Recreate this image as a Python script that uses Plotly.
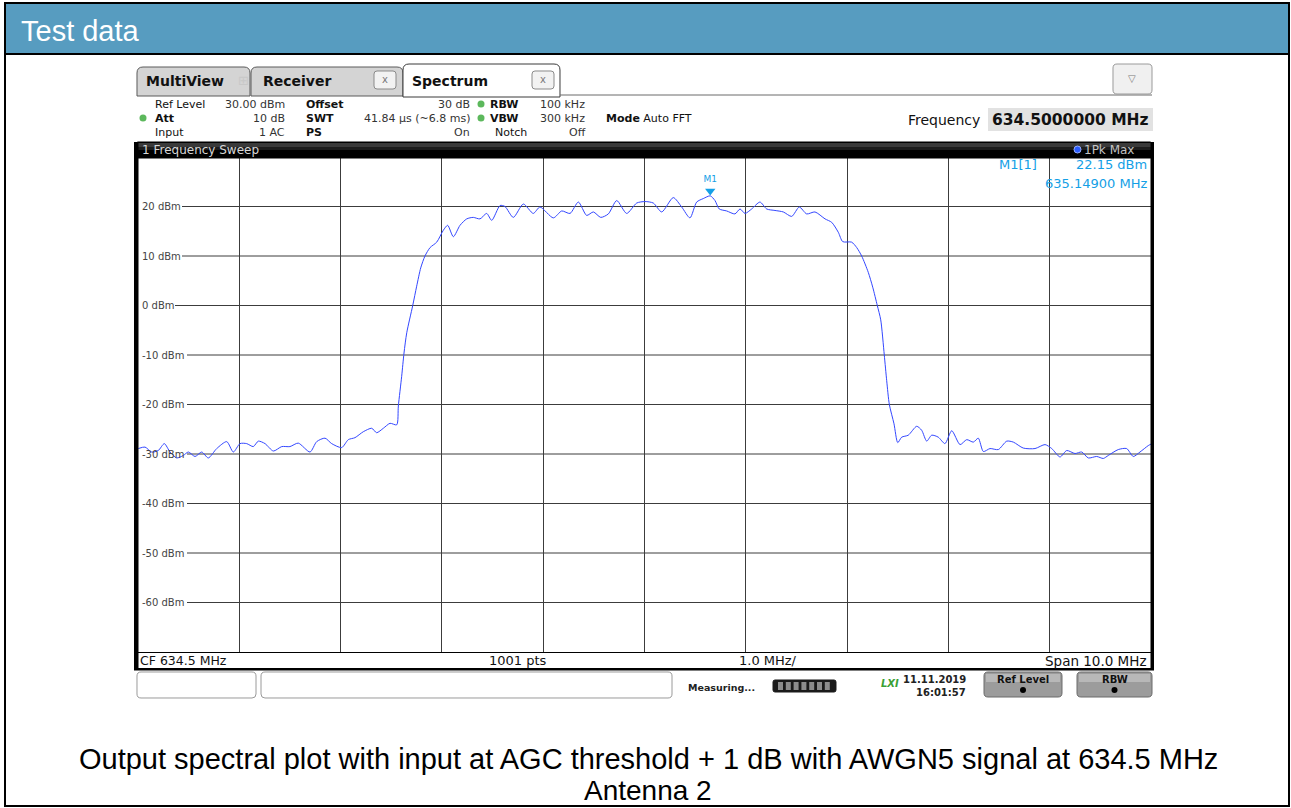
import plotly.graph_objects as go

# --- trace data (1Pk Max) ---
freq_mhz = [
    629.503, 629.569, 629.635, 629.700, 629.760, 629.816, 629.882, 629.947, 629.997, 630.063,
    630.129, 630.194, 630.277, 630.376, 630.441, 630.507, 630.573, 630.638, 630.688, 630.754,
    630.836, 630.919, 631.000, 631.082, 631.198, 631.264, 631.346, 631.412, 631.511, 631.576,
    631.642, 631.724, 631.807, 631.856, 631.922, 631.988, 632.054,
    632.070, 632.103, 632.126, 632.153, 632.212, 632.251, 632.291, 632.333, 632.383, 632.449,
    632.514, 632.557, 632.613, 632.679, 632.745, 632.810, 632.876, 632.942, 632.992, 633.074,
    633.123, 633.205, 633.304, 633.402, 633.468, 633.600, 633.683, 633.765, 633.847, 633.929,
    633.995, 634.068, 634.143, 634.226, 634.324, 634.423, 634.505, 634.587, 634.670, 634.784,
    634.867, 634.949, 635.015, 635.080, 635.149, 635.196, 635.238, 635.311, 635.393, 635.443,
    635.492, 635.558, 635.640, 635.706, 635.788, 635.870, 635.953, 636.028, 636.101, 636.183,
    636.282, 636.348, 636.413, 636.457, 636.545, 636.595, 636.644, 636.709, 636.753,
    636.798, 636.832, 636.867, 636.891, 636.917, 636.963, 637.000, 637.039, 637.104, 637.187,
    637.236, 637.286, 637.335, 637.400, 637.466, 637.533, 637.615, 637.681, 637.746, 637.795,
    637.845, 637.911, 637.993, 638.076, 638.141, 638.239, 638.355, 638.454, 638.520, 638.602,
    638.668, 638.750, 638.816, 638.881, 638.964, 639.029, 639.078, 639.177, 639.260, 639.325,
    639.391, 639.473, 639.500,
]
level_dbm = [
    -28.9, -28.6, -29.6, -29.3, -27.9, -29.6, -30.8, -30.3, -29.6, -30.5,
    -29.6, -30.8, -28.9, -27.5, -29.6, -27.9, -27.9, -28.5, -27.4, -27.9,
    -29.4, -28.5, -28.5, -27.8, -29.6, -27.5, -26.8, -27.9, -28.7, -27.1,
    -26.7, -25.5, -24.8, -25.7, -24.8, -23.8, -24.1,
    -20.3, -14.3, -9.6, -5.5, 0.0, 3.9, 7.6, 10.0, 11.7, 12.8,
    15.2, 16.2, 13.9, 16.2, 17.5, 17.8, 17.5, 18.6, 17.2, 20.2,
    20.0, 17.8, 20.5, 18.6, 19.9, 17.7, 19.1, 18.6, 20.9, 18.2,
    18.9, 17.8, 18.5, 21.2, 18.6, 20.7, 21.0, 20.7, 18.9, 21.8,
    19.9, 17.7, 20.9, 21.6, 22.15, 21.2, 19.5, 19.1, 18.5, 19.5,
    18.6, 19.5, 20.9, 19.5, 19.2, 18.9, 18.0, 19.9, 18.5, 18.9,
    17.5, 16.8, 14.8, 12.9, 12.8, 11.7, 10.0, 6.7, 3.7,
    0.0, -2.9, -10.0, -15.2, -20.0, -23.9, -27.7, -26.6, -26.2, -24.4,
    -25.2, -27.4, -26.2, -26.6, -27.9, -25.3, -28.1, -27.1, -27.6, -26.8,
    -29.5, -28.9, -29.1, -27.4, -27.6, -28.8, -28.9, -28.1, -28.9, -30.6,
    -29.3, -29.9, -29.6, -30.8, -30.5, -30.9, -30.3, -29.1, -28.9, -30.5,
    -29.6, -28.3, -28.0,
]
assert len(freq_mhz) == len(level_dbm)

center_mhz = 634.5
span_mhz = 10.0
ref_level_dbm = 30
bottom_dbm = -70
y_ticks_dbm = [20, 10, 0, -10, -20, -30, -40, -50, -60]
y_tick_labels = ["20 dBm", "10 dBm", "0 dBm", "-10 dBm", "-20 dBm",
                 "-30 dBm", "-40 dBm", "-50 dBm", "-60 dBm"]

marker_freq_mhz = [635.149]
marker_level_dbm = [22.15]

# --- page geometry (pixels) ---
W, H = 1291, 808
PL, PR, PT, PB = 138, 1151, 157, 652   # plot area
INST = "DejaVu Sans"
DOC = "Liberation Sans, Arial, sans-serif"
MKC = "#14a0e6"


def px(x):
    return x / W


def py(y):
    return 1 - y / H


shapes = []
annots = []


def rect(x0, y0, x1, y1, fill=None, line=None, lw=1, layer="above"):
    shapes.append(dict(
        type="rect", xref="paper", yref="paper",
        x0=px(x0), x1=px(x1), y0=py(y1), y1=py(y0),
        fillcolor=fill or "rgba(0,0,0,0)",
        line=dict(color=line or "rgba(0,0,0,0)", width=lw if line else 0),
        layer=layer,
    ))


def hline(x0, x1, y, color="#000", lw=1):
    shapes.append(dict(type="line", xref="paper", yref="paper",
                       x0=px(x0), x1=px(x1), y0=py(y), y1=py(y),
                       line=dict(color=color, width=lw)))


def rrect(x0, y0, x1, y1, r, fill, line, lw=1, top_only=False):
    def p(x, y):
        return f"{px(x):.6f},{py(y):.6f}"
    rb = 0 if top_only else r
    d = (f"M {p(x0 + r, y0)} L {p(x1 - r, y0)} Q {p(x1, y0)} {p(x1, y0 + r)} "
         f"L {p(x1, y1 - rb)} Q {p(x1, y1)} {p(x1 - rb, y1)} "
         f"L {p(x0 + rb, y1)} Q {p(x0, y1)} {p(x0, y1 - rb)} "
         f"L {p(x0, y0 + r)} Q {p(x0, y0)} {p(x0 + r, y0)} Z")
    shapes.append(dict(type="path", xref="paper", yref="paper", path=d,
                       fillcolor=fill, line=dict(color=line, width=lw),
                       layer="above"))


def text(x, y, s, size=11, color="#000", anchor="left", bold=False, family=INST):
    annots.append(dict(
        xref="paper", yref="paper", x=px(x), y=py(y),
        text=f"<b>{s}</b>" if bold else s, showarrow=False,
        xanchor=anchor, yanchor="middle",
        font=dict(size=size, color=color, family=family),
    ))


# --- document frame ---
rect(5, 3, 1289, 806, line="#000", lw=2)
rect(6, 4, 1288, 53, fill="#579cc0")
hline(5, 1289, 54, lw=2)
text(19, 31, "Test data", size=29, color="#fff", family=DOC)
text(648, 759, "Output spectral plot with input at AGC threshold + 1 dB with AWGN5 signal at 634.5 MHz",
     size=29, anchor="center", family=DOC)
text(648, 790, "Antenna 2", size=28, anchor="center", family=DOC)

# --- tabs ---
rrect(137, 67, 250, 96, 6, "#d4d4d4", "#5a5a5a", top_only=True)
rrect(251, 67, 403, 96, 6, "#d4d4d4", "#5a5a5a", top_only=True)
rrect(403, 64, 560, 97, 6, "#ffffff", "#3a3a3a", top_only=True)
hline(560, 1152, 95, color="#6a6a6a")
text(144, 81, "MultiView", size=14, bold=True, color="#111")
text(236, 81, "⊞", size=13, color="#c8c8c8")
text(261, 81, "Receiver", size=14, bold=True, color="#111")
text(410, 81, "Spectrum", size=14, bold=True, color="#111")
for bx in (374, 532):
    rrect(bx, 71, bx + 22, 89, 3, "#f2f2f2", "#8a8a8a")
    text(bx + 11, 80, "x", size=10, color="#7a7a7a", anchor="center")
rrect(1113, 64, 1152, 94, 4, "#f0f0f0", "#9a9a9a")
text(1132, 79, "▽", size=10, color="#7a7a7a", anchor="center")

# --- settings panel ---
LAB, VAL = "#111", "#333"
rows = [104, 118, 132]
text(153, rows[0], "Ref Level", color=LAB)
text(287, rows[0], "30.00 dBm", color=VAL, anchor="right")
text(304, rows[0], "Offset", color=LAB, bold=True)
text(472, rows[0], "30 dB", color=VAL, anchor="right")
text(488, rows[0], "RBW", color=LAB, bold=True)
text(538, rows[0], "100 kHz", color=VAL)

text(153, rows[1], "Att", color=LAB, bold=True)
text(287, rows[1], "10 dB", color=VAL, anchor="right")
text(304, rows[1], "SWT", color=LAB, bold=True)
text(472, rows[1], "41.84 µs (~6.8 ms)", color=VAL, anchor="right")
text(488, rows[1], "VBW", color=LAB, bold=True)
text(538, rows[1], "300 kHz", color=VAL)
text(604, rows[1], "<b>Mode</b> Auto FFT", color=LAB)

text(153, rows[2], "Input", color=LAB)
text(287, rows[2], "1 AC", color=VAL, anchor="right")
text(304, rows[2], "PS", color=LAB, bold=True)
text(472, rows[2], "On", color=VAL, anchor="right")
text(493, rows[2], "Notch", color=LAB)
text(588, rows[2], "Off", color=VAL, anchor="right")

for dx, dy in ((143, rows[1]), (481, rows[0]), (481, rows[1])):
    shapes.append(dict(type="circle", xref="paper", yref="paper",
                       x0=px(dx - 3.5), x1=px(dx + 3.5), y0=py(dy + 3.5), y1=py(dy - 3.5),
                       fillcolor="#5cb85c", line=dict(width=0)))

text(906, 120, "Frequency", size=14, color="#111")
rect(988, 108, 1153, 131, fill="#e2e2e2")
text(990, 120, "634.5000000 MHz", size=15.5, bold=True, color="#111")

# --- window title bar ---
rrect(135, 142, 1153, 158, 3, "#000000", "#000000", top_only=True)
rect(137, 143, 1151, 147, fill="#3a3a3a")
rect(137, 147, 1151, 150, fill="#1c1c1c")
text(140, 150, "1 Frequency Sweep", size=12, color="#d8d8d8")
shapes.append(dict(type="circle", xref="paper", yref="paper",
                   x0=px(1074), x1=px(1081), y0=py(153), y1=py(146),
                   fillcolor="#2a5cff", line=dict(color="#9ab0ff", width=1)))
text(1082, 149.5, "1Pk Max", size=12, color="#c4c4c4")

# --- plot frame ---
rect(134, 142, 138.5, 670, fill="#000")
rect(1150.5, 142, 1154, 670, fill="#000")
rect(PL, PB, PR, PB + 1, fill="#000")
rect(134, 668, 1154, 670.5, fill="#000")
text(138, 660.5, "CF 634.5 MHz", size=12.5, color="#111")
text(518, 660.5, "1001 pts", size=13, color="#111", anchor="center")
text(768, 660.5, "1.0 MHz/", size=13, color="#111", anchor="center")
text(1149, 660.5, "Span 10.0 MHz", size=13.5, color="#111", anchor="right")

# horizontal grid: starts right after each level label
label_end_px = [182, 182, 175, 187, 187, 187, 187, 187, 187]
for lvl, lab, xe in zip(y_ticks_dbm, y_tick_labels, label_end_px):
    shapes.append(dict(type="line", xref="paper", yref="y",
                       x0=px(xe), x1=px(PR), y0=lvl, y1=lvl,
                       line=dict(color="#3c3c3c", width=1), layer="below"))
    annots.append(dict(xref="paper", yref="y", x=px(140), y=lvl, text=lab,
                       showarrow=False, xanchor="left", yanchor="middle",
                       font=dict(size=10, color="#444", family=INST)))

# --- status bar ---
rrect(137, 672, 256, 698, 4, "#ffffff", "#9a9a9a")
rrect(261, 672, 672, 698, 4, "#ffffff", "#9a9a9a")
text(686, 687, "Measuring...", size=9.5, bold=True, color="#222")
rrect(773, 680, 836, 692, 2, "#1a1a1a", "#1a1a1a")
for i in range(7):
    rect(778 + i * 7.8, 682, 783 + i * 7.8, 690, fill="#8c8c8c")
text(879, 683, "<i>LXI</i>", size=10, bold=True, color="#3aa035")
text(968, 679, "11.11.2019", size=10, bold=True, color="#222", anchor="right")
text(968, 692, "16:01:57", size=10, bold=True, color="#222", anchor="right")
for bx0, bx1, lab in ((984, 1062, "Ref Level"), (1077, 1152, "RBW")):
    rrect(bx0, 672, bx1, 697, 4, "#9c9c9c", "#6a6a6a")
    rect(bx0 + 2, 674, bx1 - 2, 682, fill="#b8b8b8")
    text((bx0 + bx1) / 2, 679, lab, size=10, bold=True, color="#111", anchor="center")
    shapes.append(dict(type="circle", xref="paper", yref="paper",
                       x0=px((bx0 + bx1) / 2 - 3), x1=px((bx0 + bx1) / 2 + 3),
                       y0=py(693), y1=py(687), fillcolor="#000", line=dict(width=0)))

# --- marker readout ---
text(997, 165, "M1[1]", size=13, color=MKC)
text(1149, 165, "22.15 dBm", size=13, color=MKC, anchor="right")
text(1149, 184, "635.14900 MHz", size=13, color=MKC, anchor="right")

fig = go.Figure()
fig.add_trace(go.Scatter(
    x=freq_mhz, y=level_dbm, mode="lines",
    line=dict(color="#3347ff", width=1, shape="spline", smoothing=0.7),
    hoverinfo="x+y", showlegend=False,
))
fig.add_trace(go.Scatter(
    x=marker_freq_mhz, y=[v + 1.0 for v in marker_level_dbm],
    mode="markers+text", text=["M1"], textposition="top center",
    textfont=dict(size=9, color=MKC, family=INST),
    marker=dict(symbol="triangle-down", size=9, color=MKC),
    showlegend=False,
))

fig.update_layout(
    width=W, height=H,
    margin=dict(l=0, r=0, t=0, b=0),
    paper_bgcolor="#ffffff", plot_bgcolor="#ffffff",
    xaxis=dict(
        domain=[px(PL), px(PR)],
        range=[center_mhz - span_mhz / 2, center_mhz + span_mhz / 2],
        tick0=center_mhz - span_mhz / 2, dtick=span_mhz / 10,
        showgrid=True, gridcolor="#3c3c3c", gridwidth=1,
        showticklabels=False, zeroline=False, showline=False, ticks="",
    ),
    yaxis=dict(
        domain=[py(PB), py(PT)],
        range=[bottom_dbm, ref_level_dbm],
        showgrid=False, showticklabels=False, zeroline=False, showline=False,
    ),
    shapes=shapes,
    annotations=annots,
)

fig.write_html("out.html", config={"displayModeBar": False},
               post_script="document.body.style.margin='0';")
